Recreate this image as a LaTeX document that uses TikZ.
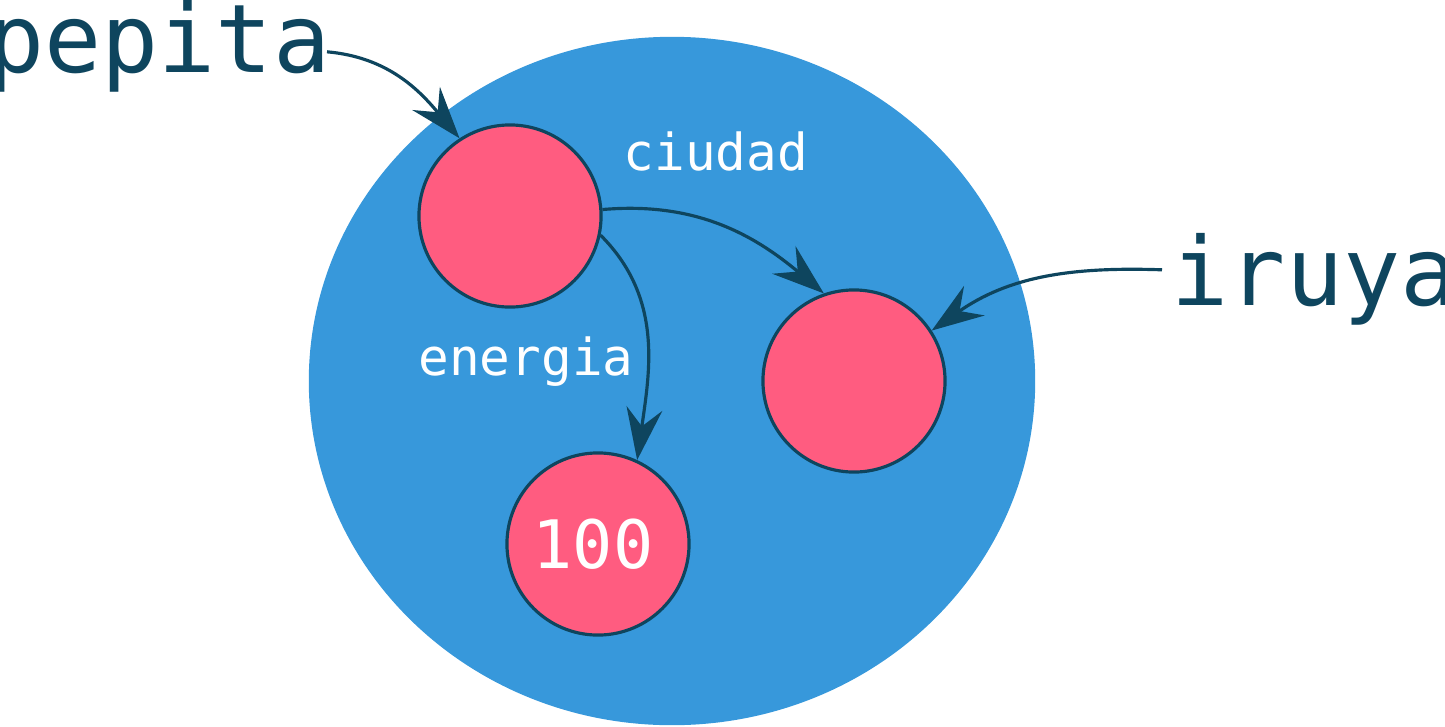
\documentclass[tikz,border=0pt]{standalone}
\usepackage{fontspec}
\setmonofont{DejaVu Sans Mono}
\usetikzlibrary{shapes,arrows.meta,positioning,calc}
\definecolor{worldblue}{RGB}{55,152,219}
\definecolor{objectpink}{RGB}{255,92,128}
\definecolor{refnavy}{RGB}{14,69,94}
\tikzset{
    object/.style={circle, draw=refnavy, line width=0.9pt, fill=objectpink, minimum size=1.82cm, inner sep=0pt},
    reflink/.style={draw=refnavy, line width=0.9pt, -{Stealth[length=0.52cm, width=0.36cm, inset=0.18cm]}},
    varname/.style={text=refnavy, font=\ttfamily\fontsize{27}{31}\selectfont, inner sep=0pt},
    attrname/.style={text=white, font=\ttfamily\fontsize{14.5}{17}\selectfont, inner sep=0pt}
}

\begin{document}
\begin{tikzpicture}[x=0.01cm, y=0.01cm]
    \useasboundingbox (0,0) rectangle (1445,726);

    % Object space
    \node[ellipse, fill=worldblue, minimum width=7.26cm, minimum height=6.88cm, inner sep=0pt] (world) at (672,345) {};

    % Objects
    \node[object] (pepitaobj) at (510,510) {};
    \node[object] (iruyaobj) at (854,345) {};
    \node[object, text=white, font=\ttfamily\fontsize{19}{22}\selectfont] (energyobj) at (598,182) {\hspace*{-0.1cm}100};

    % Variable names
    \node[varname, anchor=base east] (pepita) at (331,654) {pepita};
    \node[varname, anchor=base west] (iruya) at (1171,421) {iruya};

    % Attribute names
    \node[attrname, anchor=base] (ciudad) at (716,556) {ciudad};
    \node[attrname, anchor=base] (energia) at (526,351) {energia};

    % References
    \draw[reflink] ([shift={(-4,-6)}]pepita.east) to[out=-5, in=130] (pepitaobj.123);
    \draw[reflink] (pepitaobj.4) to[out=5, in=140] (iruyaobj.109);
    \draw[reflink] (pepitaobj.-12) to[out=-45, in=82] (energyobj.65);
    \draw[reflink] ([shift={(-9,9)}]iruya.west) to[out=178, in=35] (iruyaobj.33);
\end{tikzpicture}
\end{document}
